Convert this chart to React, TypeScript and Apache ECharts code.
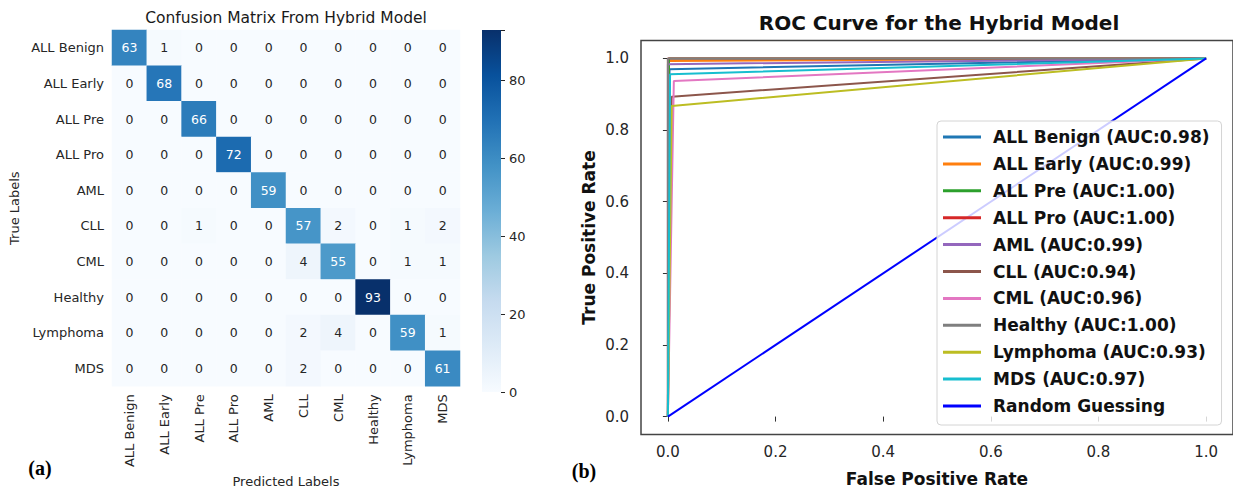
import React, { useEffect, useRef } from "react";
import * as echarts from "echarts";

const classes = ["ALL Benign", "ALL Early", "ALL Pre", "ALL Pro", "AML", "CLL", "CML", "Healthy", "Lymphoma", "MDS"];
const confusion = [
  [63, 1, 0, 0, 0, 0, 0, 0, 0, 0],
  [0, 68, 0, 0, 0, 0, 0, 0, 0, 0],
  [0, 0, 66, 0, 0, 0, 0, 0, 0, 0],
  [0, 0, 0, 72, 0, 0, 0, 0, 0, 0],
  [0, 0, 0, 0, 59, 0, 0, 0, 0, 0],
  [0, 0, 1, 0, 0, 57, 2, 0, 1, 2],
  [0, 0, 0, 0, 0, 4, 55, 0, 1, 1],
  [0, 0, 0, 0, 0, 0, 0, 93, 0, 0],
  [0, 0, 0, 0, 0, 2, 4, 0, 59, 1],
  [0, 0, 0, 0, 0, 2, 0, 0, 0, 61],
];
const colorbarTicks = [0, 20, 40, 60, 80];

const aucValues = [0.98, 0.99, 1.0, 1.0, 0.99, 0.94, 0.96, 1.0, 0.93, 0.97];
const rocFpr = [0.003, 0.002, 0.002, 0.0, 0.0, 0.007, 0.011, 0.0, 0.007, 0.004];
const rocTpr = [0.97, 0.993, 1.0, 1.0, 0.984, 0.893, 0.937, 1.0, 0.867, 0.956];
const rocTicks = [0, 0.2, 0.4, 0.6, 0.8, 1.0];
const randomGuess = [[0, 0], [1, 1]];

const classColors = ["#1f77b4", "#ff7f0e", "#2ca02c", "#d62728", "#9467bd", "#8c564b", "#e377c2", "#7f7f7f", "#bcbd22", "#17becf"];
const blues = ["#f7fbff", "#deebf7", "#c6dbef", "#9ecae1", "#6baed6", "#4292c6", "#2171b5", "#08519c", "#08306b"];

const SANS = "DejaVu Sans";

export default function App() {
  const ref = useRef<HTMLDivElement>(null);
  useEffect(() => {
    if (!ref.current) return;
    const chart = echarts.init(ref.current, null, { renderer: "svg" });
    const vmax = Math.max(...confusion.flat());
    const heatData: any[] = [];
    confusion.forEach((row, y) =>
      row.forEach((v, x) => {
        heatData.push({
          value: [x, y, v],
          label: { color: v > vmax * 0.45 ? "#ffffff" : "#262626" },
        });
      })
    );
    const rocSeries = classes.map((c, i) => ({
      name: `${c} (AUC:${aucValues[i].toFixed(2)})`,
      type: "line",
      xAxisIndex: 2,
      yAxisIndex: 2,
      symbol: "none",
      color: classColors[i],
      lineStyle: { width: 2, color: classColors[i] },
      data: [[0, 0], [rocFpr[i], rocTpr[i]], [1, 1]],
    }));
    const tickLabel = { color: "#262626", fontFamily: SANS };
    chart.setOption({
      animation: false,
      backgroundColor: "#ffffff",
      grid: [
        { left: 112, top: 30, width: 348, height: 362 },
        { left: 482, top: 30, width: 19, height: 362 },
        { left: 641, top: 40.5, width: 597, height: 394, show: true, borderColor: "#444", borderWidth: 1.5 },
      ],
      xAxis: [
        {
          type: "category",
          gridIndex: 0,
          data: classes,
          name: "Predicted Labels",
          nameLocation: "middle",
          nameGap: 86,
          nameTextStyle: { fontSize: 13, fontFamily: SANS, color: "#262626" },
          axisLine: { show: false },
          axisTick: { length: 4, alignWithLabel: true, lineStyle: { color: "#262626" } },
          axisLabel: { ...tickLabel, fontSize: 13, rotate: 90, margin: 8, interval: 0 },
          splitLine: { show: false },
        },
        { type: "category", gridIndex: 1, data: [""], show: false },
        {
          type: "value",
          gridIndex: 2,
          min: -0.05,
          max: 1.05,
          name: "False Positive Rate",
          nameLocation: "middle",
          nameGap: 36,
          nameTextStyle: { fontSize: 17, fontWeight: "bold", fontFamily: SANS, color: "#111" },
          axisLine: { show: false },
          axisTick: { show: true, customValues: rocTicks, length: 5, lineStyle: { color: "#333" } },
          axisLabel: { ...tickLabel, fontSize: 15, margin: 10, customValues: rocTicks, formatter: (v: number) => v.toFixed(1) },
          splitLine: { show: false },
        },
      ],
      yAxis: [
        {
          type: "category",
          gridIndex: 0,
          data: classes,
          inverse: true,
          name: "True Labels",
          nameLocation: "middle",
          nameGap: 91,
          nameTextStyle: { fontSize: 13, fontFamily: SANS, color: "#262626" },
          axisLine: { show: false },
          axisTick: { length: 4, alignWithLabel: true, lineStyle: { color: "#262626" } },
          axisLabel: { ...tickLabel, fontSize: 13, margin: 8, interval: 0 },
          splitLine: { show: false },
        },
        {
          type: "value",
          gridIndex: 1,
          min: 0,
          max: vmax,
          interval: 20,
          position: "right",
          axisLine: { show: false },
          axisTick: { show: true, length: 4, lineStyle: { color: "#262626" } },
          axisLabel: { ...tickLabel, fontSize: 13, margin: 8, customValues: colorbarTicks },
          splitLine: { show: false },
        },
        {
          type: "value",
          gridIndex: 2,
          min: -0.05,
          max: 1.05,
          name: "True Positive Rate",
          nameLocation: "middle",
          nameGap: 44,
          nameTextStyle: { fontSize: 17, fontWeight: "bold", fontFamily: SANS, color: "#111" },
          axisLine: { show: false },
          axisTick: { show: true, customValues: rocTicks, length: 5, lineStyle: { color: "#333" } },
          axisLabel: { ...tickLabel, fontSize: 15, margin: 12, customValues: rocTicks, formatter: (v: number) => v.toFixed(1) },
          splitLine: { show: false },
        },
      ],
      visualMap: {
        type: "continuous",
        show: false,
        min: 0,
        max: vmax,
        dimension: 2,
        seriesIndex: 0,
        inRange: { color: blues },
      },
      legend: {
        orient: "vertical",
        left: 937,
        top: 121,
        padding: [7, 12, 10, 6],
        itemGap: 8.9,
        itemWidth: 38,
        itemHeight: 3,
        icon: "rect",
        backgroundColor: "rgba(255,255,255,0.8)",
        borderColor: "#d4d4d4",
        borderWidth: 1,
        borderRadius: 4,
        textStyle: { fontSize: 17, fontWeight: "bold", fontFamily: SANS, color: "#111", lineHeight: 18, padding: [0, 0, 0, 7] },
        data: [...classes.map((c, i) => `${c} (AUC:${aucValues[i].toFixed(2)})`), "Random Guessing"],
      },
      graphic: [
        { type: "text", x: 286, y: 18, style: { text: "Confusion Matrix From Hybrid Model", font: `15.5px "${SANS}"`, fill: "#1a1a1a", textAlign: "center", textVerticalAlign: "middle" } },
        { type: "text", x: 939, y: 23, style: { text: "ROC Curve for the Hybrid Model", font: `bold 20px "${SANS}"`, fill: "#111", textAlign: "center", textVerticalAlign: "middle" } },
        { type: "text", x: 40, y: 468, style: { text: "(a)", font: `bold 20px "Liberation Serif"`, fill: "#000", textAlign: "center", textVerticalAlign: "middle" } },
        { type: "text", x: 584, y: 471, style: { text: "(b)", font: `bold 20px "Liberation Serif"`, fill: "#000", textAlign: "center", textVerticalAlign: "middle" } },
      ],
      series: [
        {
          type: "heatmap",
          xAxisIndex: 0,
          yAxisIndex: 0,
          data: heatData,
          label: { show: true, fontSize: 12.5, fontFamily: SANS },
          itemStyle: { borderWidth: 0 },
          emphasis: { disabled: true },
        },
        {
          type: "bar",
          xAxisIndex: 1,
          yAxisIndex: 1,
          barWidth: "100%",
          data: [vmax],
          itemStyle: {
            color: new echarts.graphic.LinearGradient(0, 1, 0, 0, blues.map((c, i) => ({ offset: i / (blues.length - 1), color: c }))),
          },
        },
        ...rocSeries,
        {
          name: "Random Guessing",
          type: "line",
          xAxisIndex: 2,
          yAxisIndex: 2,
          symbol: "none",
          color: "#0000ff",
          lineStyle: { width: 2, color: "#0000ff" },
          data: randomGuess,
        },
      ],
    });
    return () => chart.dispose();
  }, []);
  return (
    <div style={{ position: "fixed", left: 0, top: 0, width: 1233, height: 493, background: "#fff" }}>
      <div ref={ref} style={{ width: 1233, height: 493 }} />
    </div>
  );
}
